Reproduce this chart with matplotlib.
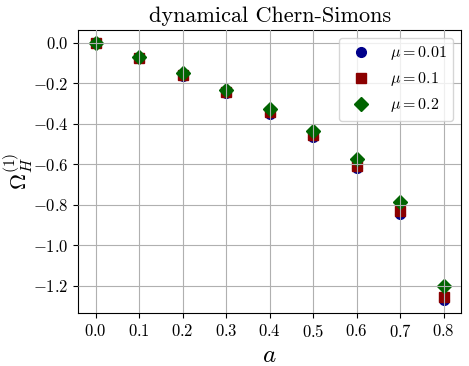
import matplotlib
matplotlib.use("Agg")
import matplotlib.pyplot as plt

plt.rcParams['font.family'] = 'serif'
plt.rcParams['font.serif'] = ['cmr10']
plt.rcParams['mathtext.fontset'] = 'cm'
plt.rcParams['axes.formatter.use_mathtext'] = True

a_vals = [0.0, 0.1, 0.2, 0.3, 0.4, 0.5, 0.6, 0.7, 0.8]
omega_mu001 = [0.0, -0.076, -0.162, -0.250, -0.350, -0.466, -0.618, -0.845, -1.272]
omega_mu01 = [0.0, -0.075, -0.160, -0.245, -0.343, -0.458, -0.609, -0.830, -1.257]
omega_mu02 = [0.0, -0.071, -0.149, -0.231, -0.326, -0.435, -0.572, -0.789, -1.204]
labels = [r'$\mu = 0.01$', r'$\mu = 0.1$', r'$\mu = 0.2$']

fig, ax = plt.subplots(figsize=(4.69, 3.66), dpi=100)
ax.plot(a_vals, omega_mu001, 'o', color='#00008b', ms=7, label=labels[0])
ax.plot(a_vals, omega_mu01, 's', color='#8b0000', ms=7, label=labels[1])
ax.plot(a_vals, omega_mu02, 'D', color='#006400', ms=7, label=labels[2])

ax.set_axisbelow(False)
ax.grid(True, color='#b0b0b0', linewidth=0.8)
ax.set_xticks(a_vals)
ax.set_title('dynamical Chern-Simons', fontsize=16)
ax.set_xlabel(r'$a$', fontsize=18)
ax.set_ylabel(r'$\Omega_H^{(1)}$', fontsize=16)
ax.yaxis.set_label_coords(-0.113, 0.5)
ax.tick_params(labelsize=12)
ax.legend(loc='upper right', fontsize=11.5)
fig.subplots_adjust(left=0.167, right=0.983, top=0.918, bottom=0.145)
fig.savefig('out.png', dpi=100)
